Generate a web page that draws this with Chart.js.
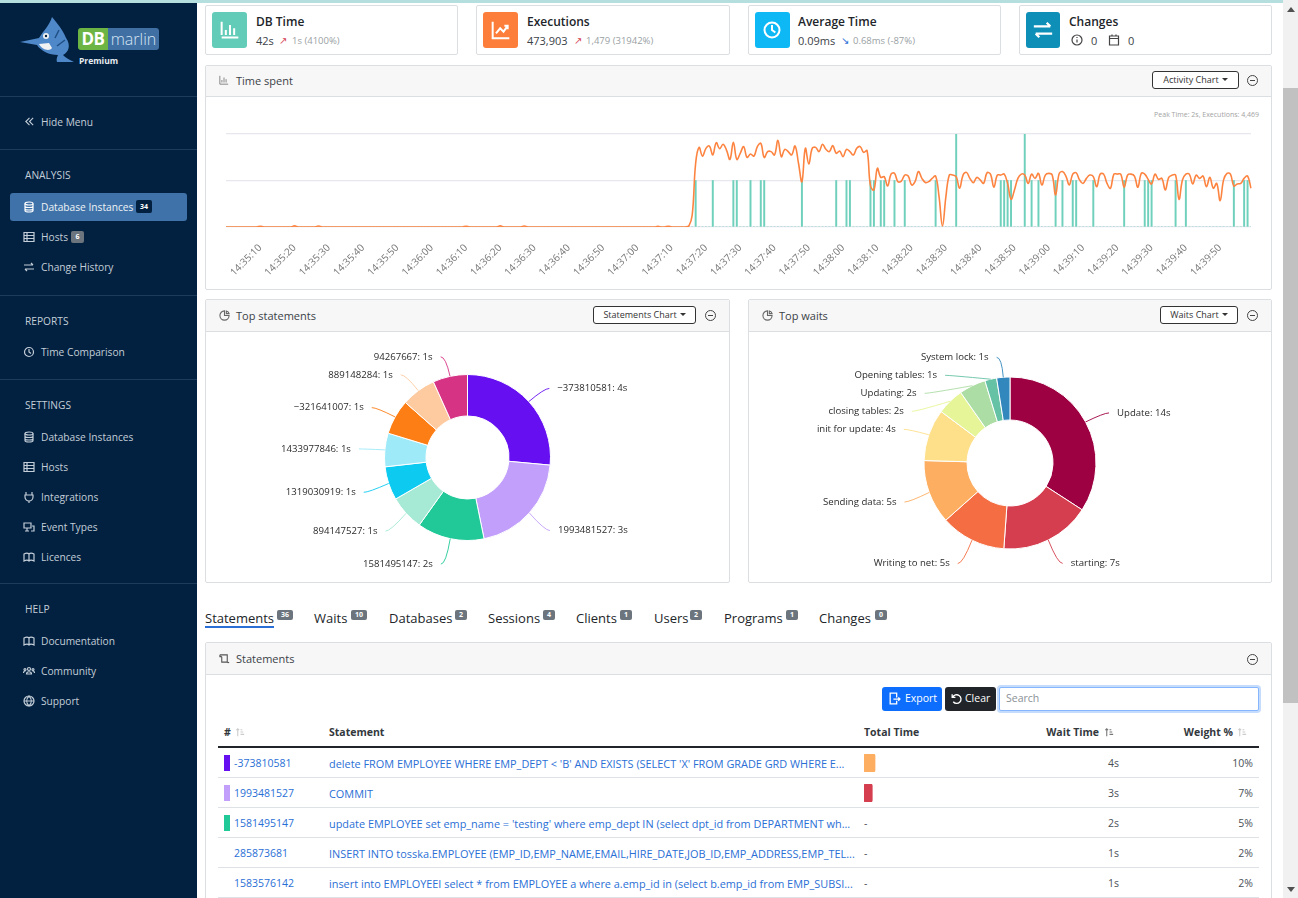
<!DOCTYPE html>
<html>
<head>
<meta charset="utf-8">
<title>DBmarlin</title>
<script src="https://cdn.jsdelivr.net/npm/chart.js@4/dist/chart.umd.min.js"></script>
<style>
html, body { margin: 0; padding: 0; width: 1298px; height: 898px; overflow: hidden; background: #fff; }
body { font-family: "Open Sans", sans-serif; color: #212529; position: relative; }
.t { position: absolute; white-space: nowrap; transform: translateY(-50%); }
.box { position: absolute; box-sizing: border-box; }
svg.i { position: absolute; fill: none; stroke: currentColor; stroke-width: 1.2; }
#side { position: absolute; left: 0; top: 0; width: 197px; height: 898px; background: #02203f; color: #c3ced9; font-size: 10.2px; }
#side .sep { position: absolute; left: 0; width: 197px; height: 1px; background: #1d3b5a; }
#side .head { font-size: 10.2px; color: #c3ced9; }
.badge { position: absolute; font-size: 7px; font-weight: 700; color: #fff; background: #6c757d; border-radius: 2px; text-align: center; line-height: 10px; height: 10px; }
.card { border: 1px solid #dcdfe2; border-radius: 2px; background: #fff; top: 5px; height: 50px; }
.ic { position: absolute; top: 12px; width: 35px; height: 36px; border-radius: 3px; }
.ttl { font-size: 12px; font-weight: 600; color: #212529; }
.sub { font-size: 11px; color: #3b4248; }
.gr { font-size: 9.5px; color: #9a9fa4; }
.panel { border: 1px solid #dcdfe2; border-radius: 2px; background: #fff; }
.phead { position: absolute; left: 0; right: 0; top: 0; height: 30px; background: #f7f7f7; border-bottom: 1px solid #dcdfe2; }
.ptxt { font-size: 11px; color: #3b4248; }
.btn { border: 1px solid #333; border-radius: 3px; font-size: 9px; color: #333; text-align: center; line-height: 16px; height: 18px; background: #fff; }
.btn:after { content: ""; display: inline-block; margin-left: 3px; vertical-align: 2px; border: 3px solid transparent; border-top: 3px solid #333; border-bottom: 0; }
.minus { position: absolute; width: 11px; height: 11px; border: 1px solid #444; border-radius: 50%; box-sizing: border-box; }
.minus:after { content: ""; position: absolute; left: 2px; right: 2px; top: 4px; height: 1px; background: #444; }
.tab { font-size: 13px; color: #212529; }
.th { font-size: 10.5px; font-weight: 700; color: #33383d; }
.td { font-size: 10.5px; color: #4a5056; }
.lk { font-size: 10.5px; color: #2a6fd6; }
.st { font-size: 10.9px; margin-top: -0.5px; }
.rl { position: absolute; left: 218px; width: 1041px; height: 1px; background: #dee2e6; }
canvas { position: absolute; }
</style>
</head>
<body>
<script>
// ------------------------------------------------------------
// Chart values
// ------------------------------------------------------------
// one value per second, 14:35:00 to 14:39:59
const timeSpent = [
    0,0,0,0,0,0,0,0,0,0, 0,0,0,0,0,0,0,0,0,0, 0,0,0,0,0,0,0,0,0,0,
    0,0,0,0,0,0,0,0,0,0, 0,0,0,0,0,0,0,0,0,0, 0,0,0,0,0,0,0,0,0,0,
    0,0,0,0,0,0,0,0,0,0, 0,0,0,0,0,0,0,0,0,0, 0,0,0,0,0,0,0,0,0,0,
    0,0,0,0,0,0,0,0,0,0, 0,0,0,0,0,0,0,0,0,0, 0,0,0,0,0,0,0,0,0,0,
    0,0,0,0,0,0,0,0,0,0,
    0,0,0,0,0,0,0,1,0,0,
    0,0,1,0,0,0,0,0,1,1,
    0,0,0,1,0,0,1,1,0,0,
    0,0,0,0,0,0,0,0,1,0,
    0,0,0,0,0,0,0,0,1,0,
    0,1,1,0,0,0,0,0,1,1,
    0,1,1,0,0,1,0,0,1,0,
    0,0,0,0,0,0,0,1,0,0,
    0,0,0,2,0,0,0,0,0,0,
    0,0,0,0,0,0,1,1,1,1,
    0,0,0,2,0,1,0,1,0,0,
    0,0,1,0,1,0,0,1,1,0,
    0,0,0,1,0,0,0,0,0,0,
    0,0,1,0,0,0,0,0,1,1,
    1,0,0,0,0,0,0,1,0,0,
    1,0,0,0,0,0,0,0,0,0,
    0,0,0,0,1,0,0,1,1,0
]

const executions = [
    0,0,0,0,0,0,0,0,0,0,
    40,0,0,0,0,0,0,0,0,0,
    60,0,0,0,0,0,0,50,0,0,
    0,0,0,0,0,0,0,0,0,0, 0,0,0,0,0,0,0,0,0,0,
    0,0,0,0,0,0,0,0,0,0, 0,0,0,0,0,0,0,0,0,0,
    40,0,0,0,0,0,0,0,0,0,
    60,0,0,0,0,0,0,50,0,0,
    0,0,0,0,0,0,0,0,0,0, 0,0,0,0,0,0,0,0,0,0, 0,0,0,0,0,0,0,0,0,0,
    0,0,0,0,0,0,30,0,0,40,
    0,0,0,0,0,50,620,3290,4110,3660,
    4060,4180,3720,4350,4040,4270,3970,3490,4370,3490,
    3800,4150,3590,3770,3660,4150,4320,3590,3890,3890,
    3720,4469,3630,4010,3890,3720,4180,3290,2340,4060,
    3250,4060,4110,3890,4270,4010,3890,4200,3800,3920,
    3630,4010,3890,3720,4060,4150,3850,3940,2120,1910,
    3030,2560,2600,2120,2730,2770,2340,2370,2680,2630,
    2170,2340,2860,2510,2300,2340,2510,2630,1570,50,
    1570,2680,2680,2600,2000,2680,2820,2510,2290,2560,
    2430,2250,2800,2730,2050,2680,2680,2730,2250,1430,
    1910,2510,2730,2680,2250,2730,2510,2770,2170,2680,
    2770,2680,1650,2730,2860,2630,2170,2730,2800,2430,
    2250,2510,2680,2600,2080,2730,2730,2250,2000,2730,
    2730,2730,2050,2680,2730,2630,2050,2770,2730,2460,
    2220,2730,2460,2510,1910,2560,2680,2680,1430,2430,
    2730,2730,2220,2680,2510,2630,2080,2560,2000,2250,
    1360,2430,2770,2730,2120,2220,2250,2510,2630,2000
]

const statementIds = ['\u2212373810581', '1993481527', '1581495147', '894147527', '1319030919', '1433977846', '\u2212321641007', '889148284', '94267667']
const statementSeconds = [3.97, 3.05, 1.96, 1.02, 0.98, 0.98, 1.02, 1.01, 1.01]
const statementColors = ['#6610f2', '#c29ffa', '#20c997', '#a6e9d5', '#0dcaf0', '#9eeaf9', '#fd7e14', '#fecba1', '#d63384']

const waitNames = ['Update', 'starting', 'Writing to net', 'Sending data', 'init for update', 'closing tables', 'Updating', 'Opening tables', 'System lock']
const waitSeconds = [14, 6.96, 5.03, 4.93, 4.0, 2.08, 2.05, 0.91, 1.02]
const waitColors = ['#9e0142', '#d53e4f', '#f46d43', '#fdae61', '#fee08b', '#e6f598', '#abdda4', '#66c2a5', '#3288bd']

const rowTotalSeconds = [4, 3]
const rowTotalColors = ['#fdae61', '#d53e4f']

// x axis labels, one per second
const secondLabels = []
for (let s = 0; s < timeSpent.length; s++) {
    const m = 35 + Math.floor(s / 60)
    const ss = s % 60
    secondLabels.push('14:' + m + ':' + (ss < 10 ? '0' : '') + ss)
}
</script>

<svg width="0" height="0" style="position:absolute">
  <symbol id="chart" viewBox="0 0 12 12"><path d="M1 1v10h10M3.5 9V6M6 9V3M8.5 9V5"/></symbol>
  <symbol id="pie" viewBox="0 0 12 12"><path d="M6 1a5 5 0 1 0 5 5H6zM8 1a4 4 0 0 1 3 3H8z"/></symbol>
  <symbol id="scroll" viewBox="0 0 12 12"><path d="M1 2h8v8a1.500 1.500 0 0 0 2 0M1 2v2h2M3 4v6h6"/></symbol>
  <symbol id="db" viewBox="0 0 12 12"><ellipse cx="6" cy="2.500" rx="4" ry="1.500"/><path d="M2 2.500v7c0 2 8 2 8 0v-7M2 5c0 2 8 2 8 0M2 7.500c0 2 8 2 8 0"/></symbol>
  <symbol id="hosts" viewBox="0 0 12 12"><path d="M1 1.500h10v9H1zM1 4.500h10M1 7.500h10M4 1.500v9"/></symbol>
  <symbol id="swap" viewBox="0 0 12 12"><path d="M1 4h9M8 2l2 2M11 8H2M4 10L2 8"/></symbol>
  <symbol id="clock" viewBox="0 0 12 12"><circle cx="6" cy="6" r="4.500"/><path d="M6 3v3l2 1.500"/></symbol>
  <symbol id="left" viewBox="0 0 12 12"><path d="M6 2L2 6l4 4M10 2L6 6l4 4"/></symbol>
  <symbol id="plug" viewBox="0 0 12 12"><path d="M3 1v3M9 1v3M2 4h8v2a4 4 0 0 1-8 0zM6 10v2"/></symbol>
  <symbol id="event" viewBox="0 0 12 12"><path d="M1 2h7v5H1zM4 7v3M2 10h4M9 5h2v5H8"/></symbol>
  <symbol id="doc" viewBox="0 0 12 12"><path d="M1 3c2-1 4-1 5 0 1-1 3-1 5 0v7c-2-1-4-1-5 0-1-1-3-1-5 0zM6 3v7"/></symbol>
  <symbol id="people" viewBox="0 0 12 12"><circle cx="6" cy="4" r="1.500"/><circle cx="2" cy="4.500" r="1"/><circle cx="10" cy="4.500" r="1"/><path d="M3.500 9c0-3 5-3 5 0zM0.500 8c0-2 2-2 2-2M11.500 8c0-2-2-2-2-2"/></symbol>
  <symbol id="globe" viewBox="0 0 12 12"><circle cx="6" cy="6" r="5"/><path d="M1 6h10M6 1c-3 3-3 7 0 10M6 1c3 3 3 7 0 10"/></symbol>
  <symbol id="info" viewBox="0 0 12 12"><circle cx="6" cy="6" r="5"/><path d="M6 5.500v3M6 3v1"/></symbol>
  <symbol id="cal" viewBox="0 0 12 12"><path d="M1.500 2h9v9h-9zM1.500 4.500h9M4 .500v2M8 .500v2"/></symbol>
  <symbol id="trend" viewBox="0 0 12 12"><path d="M1 1v10h10M3 8l2.500-3 2 2L10 3.500M8 3.500h2v2"/></symbol>
  <symbol id="card" viewBox="0 0 12 12"><path d="M1 9V1M1 10.500h10M3.500 9V6M6 9V3M8.500 9V5"/></symbol>
  <symbol id="sort" viewBox="0 0 12 12"><path d="M3 2v8M1.500 3.500L3 2l1.500 1.500M6 3h2M6 5.500h3M6 8h4"/></symbol>
  <symbol id="export" viewBox="0 0 12 12"><path d="M8 5V1H2v10h6V8M5 6.500h6M9.500 5l1.500 1.500L9.500 8"/></symbol>
  <symbol id="undo" viewBox="0 0 12 12"><path d="M2 2v3h3M2.500 5a4 4 0 1 1 .5 4"/></symbol>
</svg>

<!-- top strip -->
<div class="box" style="left:0;top:0;width:1283px;height:3px;background:#b5dfdf"></div>

<!-- sidebar -->
<div id="side">
  <div class="box" style="left:0;top:0;width:197px;height:3px;background:#b5dfdf"></div>
  <svg style="position:absolute;left:19px;top:16px" width="58" height="48" viewBox="0 0 58 48">
    <path d="M1 26 L20 22 C25 14 30 10 33 1 C38 7 44 14 47 22 C52 29 50 36 44 39 C46 41 50 44 55 46 L38 46 C37 44 38 41 39 39 C30 39 22 35 18 29 Z" fill="#4f88c8"/>
    <path d="M40 14 L36 22 M46 24 L38 30" stroke="#1f4f86" stroke-width="1.500" fill="none"/>
    <path d="M20 28 C24 35 31 35 33 32 L30 27 Z" fill="#f2f2f2"/>
    <circle cx="27" cy="20" r="3" fill="#f2f2f2"/><circle cx="27" cy="20" r="1.200" fill="#02203f"/>
  </svg>
  <div class="box" style="left:78px;top:28px;width:30px;height:22px;background:#6cb544;border-radius:3px 0 0 3px;color:#fff;font-size:17px;font-weight:700;text-align:center;line-height:22px;letter-spacing:-0.5px">DB</div>
  <div class="box" style="left:108px;top:28px;width:51px;height:22px;background:#3f6fa3;border-radius:0 3px 3px 0;color:#d7e6f5;font-size:16px;font-weight:300;text-align:center;line-height:22px">marlin</div>
  <div class="t" style="left:79px;top:60px;font-size:8.5px;font-weight:700;color:#e8edf2">Premium</div>

  <div class="sep" style="top:96px"></div>
  <svg class="i" style="left:24px;top:116px" width="11" height="11"><use href="#left"/></svg>
  <div class="t" style="left:41px;top:122px">Hide Menu</div>
  <div class="sep" style="top:149px"></div>

  <div class="t head" style="left:25px;top:175px">ANALYSIS</div>
  <div class="box" style="left:10px;top:193px;width:177px;height:28px;background:#3f72a8;border-radius:3px"></div>
  <svg class="i" style="left:23px;top:201px;color:#fff" width="12" height="12"><use href="#db"/></svg>
  <div class="t" style="left:41px;top:207px;color:#eef2f6">Database Instances</div>
  <div class="badge" style="left:136px;top:200px;width:16px;height:13px;line-height:13px;background:#02203f">34</div>
  <svg class="i" style="left:23px;top:231px" width="12" height="12"><use href="#hosts"/></svg>
  <div class="t" style="left:41px;top:237px">Hosts</div>
  <div class="badge" style="left:71px;top:231px;width:13px;height:12px;line-height:12px">6</div>
  <svg class="i" style="left:23px;top:261px" width="12" height="12"><use href="#swap"/></svg>
  <div class="t" style="left:41px;top:267px">Change History</div>
  <div class="sep" style="top:295px"></div>

  <div class="t head" style="left:25px;top:321px">REPORTS</div>
  <svg class="i" style="left:23px;top:346px" width="12" height="12"><use href="#clock"/></svg>
  <div class="t" style="left:41px;top:352px">Time Comparison</div>
  <div class="sep" style="top:379px"></div>

  <div class="t head" style="left:25px;top:405px">SETTINGS</div>
  <svg class="i" style="left:23px;top:431px" width="12" height="12"><use href="#db"/></svg>
  <div class="t" style="left:41px;top:437px">Database Instances</div>
  <svg class="i" style="left:23px;top:461px" width="12" height="12"><use href="#hosts"/></svg>
  <div class="t" style="left:41px;top:467px">Hosts</div>
  <svg class="i" style="left:23px;top:491px" width="12" height="12"><use href="#plug"/></svg>
  <div class="t" style="left:41px;top:497px">Integrations</div>
  <svg class="i" style="left:23px;top:521px" width="12" height="12"><use href="#event"/></svg>
  <div class="t" style="left:41px;top:527px">Event Types</div>
  <svg class="i" style="left:23px;top:551px" width="12" height="12"><use href="#doc"/></svg>
  <div class="t" style="left:41px;top:557px">Licences</div>
  <div class="sep" style="top:583px"></div>

  <div class="t head" style="left:25px;top:609px">HELP</div>
  <svg class="i" style="left:23px;top:635px" width="12" height="12"><use href="#doc"/></svg>
  <div class="t" style="left:41px;top:641px">Documentation</div>
  <svg class="i" style="left:23px;top:665px" width="12" height="12"><use href="#people"/></svg>
  <div class="t" style="left:41px;top:671px">Community</div>
  <svg class="i" style="left:23px;top:695px" width="12" height="12"><use href="#globe"/></svg>
  <div class="t" style="left:41px;top:701px">Support</div>
</div>

<!-- scrollbar -->
<div class="box" style="left:1283px;top:0;width:15px;height:898px;background:#f1f1f1"></div>
<div class="box" style="left:1283px;top:88px;width:15px;height:615px;background:#c1c1c1"></div>
<div class="box" style="left:1287px;top:7px;border:4px solid transparent;border-bottom:5px solid #505050;border-top:0"></div>
<div class="box" style="left:1287px;top:887px;border:4px solid transparent;border-top:5px solid #505050;border-bottom:0"></div>

<!-- kpi cards -->
<div class="box card" style="left:205px;width:253px"></div>
<div class="ic" style="left:212px;background:#62ccb8;color:#fff"><svg class="i" style="left:8px;top:8px" width="20" height="20"><use href="#card"/></svg></div>
<div class="t ttl" style="left:256px;top:21px">DB Time</div>
<div class="t sub" style="left:256px;top:40px">42s</div>
<div class="t" style="left:279px;top:40px;font-size:10px;color:#d53e4f">&#8599;</div>
<div class="t gr" style="left:292px;top:40px">1s (4100%)</div>

<div class="box card" style="left:476px;width:254px"></div>
<div class="ic" style="left:483px;background:#fd7e3a;color:#fff"><svg class="i" style="left:8px;top:8px" width="20" height="20"><use href="#trend"/></svg></div>
<div class="t ttl" style="left:527px;top:21px">Executions</div>
<div class="t sub" style="left:527px;top:40px">473,903</div>
<div class="t" style="left:574px;top:40px;font-size:10px;color:#d53e4f">&#8599;</div>
<div class="t gr" style="left:586px;top:40px">1,479 (31942%)</div>

<div class="box card" style="left:748px;width:253px"></div>
<div class="ic" style="left:755px;background:#0db8f4;color:#fff"><svg class="i" style="left:7px;top:8px" width="20" height="20"><use href="#clock"/></svg></div>
<div class="t ttl" style="left:798px;top:21px">Average Time</div>
<div class="t sub" style="left:798px;top:40px">0.09ms</div>
<div class="t" style="left:841px;top:40px;font-size:10px;color:#2a6fd6">&#8600;</div>
<div class="t gr" style="left:853px;top:40px">0.68ms (-87%)</div>

<div class="box card" style="left:1019px;width:253px"></div>
<div class="ic" style="left:1026px;width:34px;background:#0d8fb8;color:#fff"><svg class="i" style="left:6px;top:7px" width="22" height="22"><use href="#swap"/></svg></div>
<div class="t ttl" style="left:1069px;top:21px">Changes</div>
<svg class="i" style="left:1071px;top:34px;color:#444" width="12" height="12"><use href="#info"/></svg>
<div class="t sub" style="left:1091px;top:40px">0</div>
<svg class="i" style="left:1108px;top:34px;color:#444" width="12" height="12"><use href="#cal"/></svg>
<div class="t sub" style="left:1128px;top:40px">0</div>

<!-- time spent -->
<div class="box panel" style="left:205px;top:65px;width:1067px;height:225px"><div class="phead"></div></div>
<svg class="i" style="left:219px;top:75px;color:#888" width="10" height="10"><use href="#chart"/></svg>
<div class="t ptxt" style="left:236px;top:80px">Time spent</div>
<div class="box btn" style="left:1152px;top:71px;width:87px">Activity Chart</div>
<div class="minus" style="left:1247px;top:75px"></div>
<div class="t" style="right:39px;top:114px;font-size:7px;color:#a3a3a3">Peak Time: 2s, Executions: 4,469</div>
<canvas id="timeChart" width="1065" height="192" style="left:206px;top:97px;width:1065px;height:192px"></canvas>

<!-- top statements -->
<div class="box panel" style="left:205px;top:299px;width:525px;height:284px"><div class="phead" style="height:31px"></div></div>
<svg class="i" style="left:219px;top:310px;color:#666" width="11" height="11"><use href="#pie"/></svg>
<div class="t ptxt" style="left:236px;top:315px">Top statements</div>
<div class="box btn" style="left:593px;top:306px;width:103px">Statements Chart</div>
<div class="minus" style="left:705px;top:310px"></div>
<canvas id="statementsChart" width="523" height="249" style="left:206px;top:333px;width:523px;height:249px"></canvas>

<!-- top waits -->
<div class="box panel" style="left:748px;top:299px;width:524px;height:284px"><div class="phead" style="height:31px"></div></div>
<svg class="i" style="left:762px;top:310px;color:#666" width="11" height="11"><use href="#pie"/></svg>
<div class="t ptxt" style="left:779px;top:315px">Top waits</div>
<div class="box btn" style="left:1160px;top:306px;width:78px">Waits Chart</div>
<div class="minus" style="left:1247px;top:310px"></div>
<canvas id="waitsChart" width="522" height="249" style="left:749px;top:333px;width:522px;height:249px"></canvas>

<!-- tabs -->
<div class="t tab" style="left:205px;top:618px">Statements</div>
<div class="box" style="left:205px;top:626px;width:69px;height:2px;background:#2a6fd6"></div>
<div class="badge" style="left:277px;top:610px;width:16px">36</div>
<div class="t tab" style="left:314px;top:618px">Waits</div>
<div class="badge" style="left:351px;top:610px;width:16px">10</div>
<div class="t tab" style="left:389px;top:618px">Databases</div>
<div class="badge" style="left:455px;top:610px;width:12px">2</div>
<div class="t tab" style="left:488px;top:618px">Sessions</div>
<div class="badge" style="left:543px;top:610px;width:12px">4</div>
<div class="t tab" style="left:576px;top:618px">Clients</div>
<div class="badge" style="left:620px;top:610px;width:12px">1</div>
<div class="t tab" style="left:654px;top:618px">Users</div>
<div class="badge" style="left:690px;top:610px;width:12px">2</div>
<div class="t tab" style="left:724px;top:618px">Programs</div>
<div class="badge" style="left:786px;top:610px;width:12px">1</div>
<div class="t tab" style="left:819px;top:618px">Changes</div>
<div class="badge" style="left:875px;top:610px;width:12px">0</div>

<!-- statements table -->
<div class="box panel" style="left:205px;top:642px;width:1067px;height:270px"><div class="phead" style="height:31px"></div></div>
<svg class="i" style="left:219px;top:653px;color:#555" width="11" height="11"><use href="#scroll"/></svg>
<div class="t ptxt" style="left:236px;top:658px">Statements</div>
<div class="minus" style="left:1247px;top:654px"></div>
<div class="box" style="left:882px;top:687px;width:60px;height:24px;background:#0d6efd;border-radius:3px;color:#fff;font-size:10.5px;line-height:22px;padding-left:23px">Export</div>
<svg class="i" style="left:888px;top:692px;color:#fff" width="13" height="13"><use href="#export"/></svg>
<div class="box" style="left:945px;top:687px;width:51px;height:24px;background:#212529;border-radius:3px;color:#fff;font-size:10.5px;line-height:22px;padding-left:20px">Clear</div>
<svg class="i" style="left:950px;top:692px;color:#fff" width="13" height="13"><use href="#undo"/></svg>
<div class="box" style="left:999px;top:687px;width:260px;height:24px;border:1px solid #86b7fe;box-shadow:0 0 0 2px #c6dcfd;border-radius:2px;background:#fff;color:#8a9096;font-size:10.5px;line-height:20px;padding-left:6px">Search</div>

<div class="t th" style="left:224px;top:732px">#</div>
<svg class="i" style="left:235px;top:727px;color:#ccc" width="11" height="11"><use href="#sort"/></svg>
<div class="t th" style="left:329px;top:732px">Statement</div>
<div class="t th" style="left:864px;top:732px">Total Time</div>
<div class="t th" style="right:199px;top:732px">Wait Time</div>
<svg class="i" style="left:1104px;top:727px;color:#777" width="11" height="11"><use href="#sort"/></svg>
<div class="t th" style="right:65px;top:732px">Weight %</div>
<svg class="i" style="left:1237px;top:727px;color:#ccc" width="11" height="11"><use href="#sort"/></svg>
<div class="box" style="left:218px;top:746px;width:1041px;height:2px;background:#212529"></div>

<div class="box" style="left:224px;top:755px;width:6px;height:16px;background:#6610f2"></div>
<div class="t lk" style="left:234px;top:763px">-373810581</div>
<div class="t lk st" style="left:329px;top:763px">delete FROM EMPLOYEE WHERE EMP_DEPT &lt; 'B' AND EXISTS (SELECT 'X' FROM GRADE GRD WHERE E...</div>
<canvas id="rowTotal0" width="40" height="18" style="left:864px;top:754px;width:40px;height:18px"></canvas>
<div class="t td" style="right:179px;top:763px">4s</div>
<div class="t td" style="right:45px;top:763px">10%</div>
<div class="rl" style="top:777px"></div>

<div class="box" style="left:224px;top:785px;width:6px;height:16px;background:#c29ffa"></div>
<div class="t lk" style="left:234px;top:793px">1993481527</div>
<div class="t lk st" style="left:329px;top:793px">COMMIT</div>
<canvas id="rowTotal1" width="40" height="18" style="left:864px;top:784px;width:40px;height:18px"></canvas>
<div class="t td" style="right:179px;top:793px">3s</div>
<div class="t td" style="right:45px;top:793px">7%</div>
<div class="rl" style="top:807px"></div>

<div class="box" style="left:224px;top:815px;width:6px;height:16px;background:#20c997"></div>
<div class="t lk" style="left:234px;top:823px">1581495147</div>
<div class="t lk st" style="left:329px;top:823px">update EMPLOYEE set emp_name = 'testing' where emp_dept IN (select dpt_id from DEPARTMENT wh...</div>
<div class="t td" style="left:864px;top:823px">-</div>
<div class="t td" style="right:179px;top:823px">2s</div>
<div class="t td" style="right:45px;top:823px">5%</div>
<div class="rl" style="top:837px"></div>

<div class="t lk" style="left:234px;top:853px">285873681</div>
<div class="t lk st" style="left:329px;top:853px">INSERT INTO tosska.EMPLOYEE (EMP_ID,EMP_NAME,EMAIL,HIRE_DATE,JOB_ID,EMP_ADDRESS,EMP_TEL...</div>
<div class="t td" style="left:864px;top:853px">-</div>
<div class="t td" style="right:179px;top:853px">1s</div>
<div class="t td" style="right:45px;top:853px">2%</div>
<div class="rl" style="top:867px"></div>

<div class="t lk" style="left:234px;top:883px">1583576142</div>
<div class="t lk st" style="left:329px;top:883px">insert into EMPLOYEEI select * from EMPLOYEE a where a.emp_id in (select b.emp_id from EMP_SUBSI...</div>
<div class="t td" style="left:864px;top:883px">-</div>
<div class="t td" style="right:179px;top:883px">1s</div>
<div class="t td" style="right:45px;top:883px">2%</div>
<div class="rl" style="top:897px"></div>

<script>
Chart.defaults.font.family = '"Open Sans", sans-serif'
Chart.defaults.animation = false

// ------------------------------------------------------------
// Time spent
// ------------------------------------------------------------
const timeChart = new Chart(document.getElementById('timeChart'), {
    type: 'bar',
    data: {
        labels: secondLabels,
        datasets: [
            {
                type: 'line',
                label: 'Executions',
                data: executions,
                yAxisID: 'yExec',
                borderColor: '#fd8440',
                borderWidth: 1.6,
                pointRadius: 0,
                tension: 0.4,
                order: 1
            },
            {
                label: 'Time',
                data: timeSpent,
                yAxisID: 'y',
                backgroundColor: '#6fd0bc',
                barThickness: 1.3,
                order: 2
            }
        ]
    },
    options: {
        responsive: false,
        layout: { padding: { left: 20, right: 20, top: 37 } },
        plugins: { legend: { display: false }, tooltip: { enabled: false } },
        scales: {
            x: {
                offset: false,
                grid: { display: false },
                border: { display: false },
                afterFit: (scale) => { scale.height = 62 },
                ticks: {
                    autoSkip: false,
                    minRotation: 45,
                    maxRotation: 45,
                    padding: 7,
                    color: '#777',
                    font: { size: 10 },
                    callback: (val, i) => (i > 0 && i % 10 === 0) ? secondLabels[i] : ''
                }
            },
            y: {
                min: 0,
                max: 2,
                grid: { color: '#e6e8ee', drawTicks: false, lineWidth: 1.2 },
                border: { display: false },
                ticks: { display: false, stepSize: 1 },
                afterFit: (scale) => { scale.width = 0 }
            },
            yExec: { display: false, min: 0, max: 4800 }
        }
    }
})

// ------------------------------------------------------------
// Doughnut labels with leader lines
// ------------------------------------------------------------
const calloutLabels = {
    id: 'calloutLabels',
    afterDraw(chart) {
        const ctx = chart.ctx
        const meta = chart.getDatasetMeta(0)
        const values = chart.data.datasets[0].data
        const colors = chart.data.datasets[0].backgroundColor
        const left = []
        const right = []
        let cx, cy, R

        meta.data.forEach((arc, i) => {
            const p = arc.getProps(['x', 'y', 'startAngle', 'endAngle', 'outerRadius'], true)
            cx = p.x; cy = p.y; R = p.outerRadius
            const mid = (p.startAngle + p.endAngle) / 2
            const sin = Math.sin(mid)
            const item = {
                i,
                mid,
                x0: cx + Math.cos(mid) * R,
                y0: cy + sin * R,
                // x stays on the circle, y sits a little lower on the bottom half
                yCircle: cy + sin * (R + 21),
                y: cy + sin * (R + (sin > 0 ? 25 : 21)) + 1,
                text: chart.data.labels[i] + ': ' + Math.round(values[i]) + 's',
                color: colors[i]
            }
            if (Math.cos(mid) >= 0) right.push(item)
            else left.push(item)
        })

        const draw = (items, dir) => {
            items.sort((a, b) => a.y - b.y)
            let prev = -1000
            items.forEach((it) => {
                const pushed = it.y < prev + 18
                if (pushed) it.y = prev + 18
                prev = it.y
                const dy = Math.min(Math.abs((pushed ? it.y - 1 : it.yCircle) - cy), R + 21)
                const ex = cx + dir * Math.sqrt((R + 21) * (R + 21) - dy * dy)

                ctx.save()
                ctx.strokeStyle = it.color
                ctx.lineWidth = 0.9
                ctx.beginPath()
                ctx.moveTo(it.x0, it.y0)
                ctx.quadraticCurveTo(ex, it.y, ex + dir * 5, it.y)
                ctx.stroke()
                ctx.fillStyle = '#2b2b2b'
                ctx.font = '9.6px "Open Sans", sans-serif'
                ctx.textBaseline = 'middle'
                ctx.textAlign = dir > 0 ? 'left' : 'right'
                ctx.fillText(it.text, ex + dir * 13, it.y)
                ctx.restore()
            })
        }
        draw(right, 1)
        draw(left, -1)
    }
}

const donut = (id, names, secs, colors, radius, padTop) => new Chart(document.getElementById(id), {
    type: 'doughnut',
    data: {
        labels: names,
        datasets: [{ data: secs, backgroundColor: colors, borderColor: '#fff', borderWidth: 1 }]
    },
    options: {
        responsive: false,
        radius: radius,
        cutout: '50%',
        layout: { padding: { top: padTop } },
        plugins: { legend: { display: false }, tooltip: { enabled: false } }
    },
    plugins: [calloutLabels]
})

donut('statementsChart', statementIds, statementSeconds, statementColors, 83, 0)
donut('waitsChart', waitNames, waitSeconds, waitColors, 86, 11)

// ------------------------------------------------------------
// Total Time bars in the table
// ------------------------------------------------------------
rowTotalSeconds.forEach((sec, i) => {
    new Chart(document.getElementById('rowTotal' + i), {
        type: 'bar',
        data: {
            labels: ['total'],
            datasets: [{
                data: [sec],
                backgroundColor: rowTotalColors[i],
                borderRadius: 2,
                borderSkipped: false,
                barPercentage: 1,
                categoryPercentage: 1
            }]
        },
        options: {
            indexAxis: 'y',
            responsive: false,
            plugins: { legend: { display: false }, tooltip: { enabled: false } },
            scales: {
                x: { display: false, min: 0, max: 14.5 },
                y: { display: false }
            }
        }
    })
})
</script>
</body>
</html>
